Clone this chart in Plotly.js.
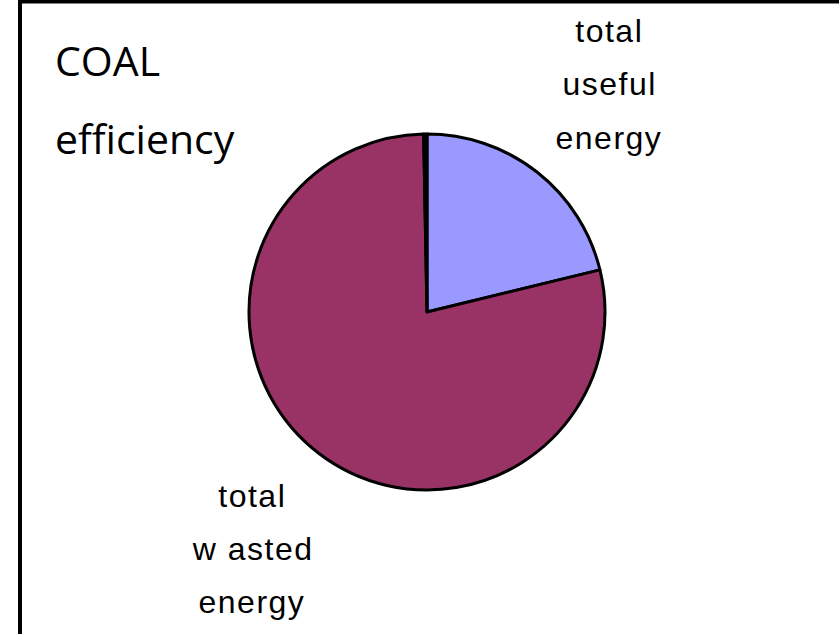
<!DOCTYPE html>
<html>
<head>
<meta charset="utf-8">
<script src="https://cdn.plot.ly/plotly-3.0.1.min.js"></script>
<style>html,body{margin:0;padding:0;background:#fff;}#chart{width:839px;height:634px;}</style>
</head>
<body>
<div id="chart"></div>
<script>
var categories = ["total useful energy", "total wasted energy", "other"];
var values = [21.2, 78.5, 0.3];
var labelLines = [["total", "useful", "energy"], ["total", "w asted", "energy"]];
var titleLines = ["COAL", "efficiency"];
var colors = ["#9999FF", "#993366", "#000000"];

var W = 839, H = 634;
function px(x){ return x / W; }
function py(y){ return 1 - y / H; }

var labelPos = [{x: 609, y: [31, 84, 138]}, {x: 252, y: [496, 549, 602]}];
var annotations = [];
labelLines.forEach(function(lines, i){
  lines.forEach(function(t, j){
    annotations.push({xref:'paper', yref:'paper', x: px(labelPos[i].x), y: py(labelPos[i].y[j]),
      text: t, showarrow:false, xanchor:'center', yanchor:'middle',
      font:{family:'Liberation Sans, Arial, sans-serif', size:32, color:'#000'}});
  });
});
var titleY = [60, 138];
titleLines.forEach(function(t, j){
  annotations.push({xref:'paper', yref:'paper', x: px(53), y: py(titleY[j]),
    text: t, showarrow:false, xanchor:'left', yanchor:'middle',
    font:{family:'Open Sans, sans-serif', size:41, color:'#000'}});
});

var trace = {
  type: 'pie',
  labels: categories,
  values: values,
  sort: false,
  direction: 'clockwise',
  rotation: 0,
  textinfo: 'none',
  hoverinfo: 'label+value',
  marker: {colors: colors, line: {color: '#000', width: 3}},
  domain: {x: [px(249), px(605)], y: [py(490), py(134)]},
  showlegend: false
};

var layout = {
  width: W, height: H,
  margin: {l:0, r:0, t:0, b:0},
  paper_bgcolor: '#fff',
  showlegend: false,
  annotations: annotations,
  shapes: [{type:'rect', xref:'paper', yref:'paper', x0: px(20), x1: 1.02, y0: -0.02, y1: py(1.5),
    line:{color:'#000', width:4}, fillcolor:'rgba(0,0,0,0)'}]
};
Plotly.newPlot('chart', [trace], layout, {displayModeBar:false, staticPlot:true}).then(function(){
  var els = document.querySelectorAll('.annotation-text');
  for (var k = 0; k < 6 && k < els.length; k++) { els[k].style.letterSpacing = '1.5px'; }
});
</script>
</body>
</html>
